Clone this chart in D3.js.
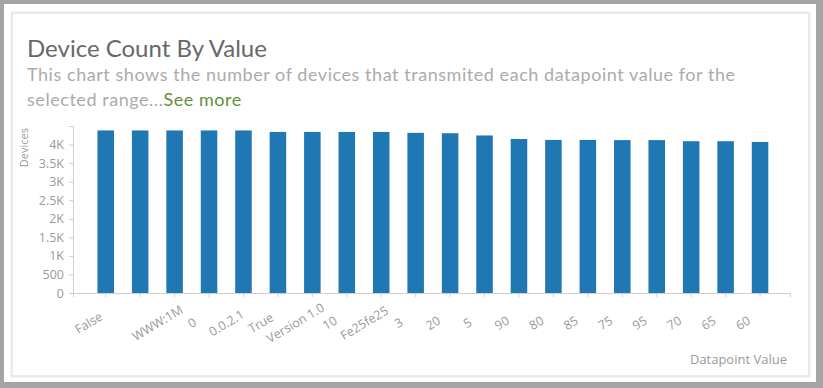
<!DOCTYPE html>
<meta charset="utf-8">
<style>
body { margin: 0; background: #fff; }
.frame {
  position: absolute; left: 0; top: 0; width: 823px; height: 388px;
  box-sizing: border-box; border: solid #a4a4a4; border-width: 4px 7px 6px 4px;
}
.card {
  position: absolute; left: 11px; top: 12px; width: 799px; height: 365px;
  box-sizing: border-box; border: 2px solid #e9e9e9; box-shadow: 0 0 2px #e0e0e0;
}
svg { position: absolute; left: 0; top: 0; }
.title { font: 400 24px Lato, sans-serif; fill: #686868; }
.sub { font: 400 18px Lato, sans-serif; fill: #ababab; letter-spacing: 0.55px; }
.more { fill: #5f8f3a; }
.axis text { font: 12.5px "Open Sans", sans-serif; fill: #9a9a9a; }
.axis path, .axis line { stroke: #cfcfcf; }
.label { font: 11px "Open Sans", sans-serif; fill: #9a9a9a; }
</style>
<div class="frame"></div>
<div class="card"></div>
<svg width="823" height="388"></svg>
<script src="https://d3js.org/d3.v7.min.js"></script>
<script>

// datapoint values and device counts
var values = ["False", "", "WWW:1M", "0", "0.0.2.1", "True", "Version 1.0", "10", "Fe25fe25", "3",
              "20", "5", "90", "80", "85", "75", "95", "70", "65", "60"];
var counts = [4380, 4380, 4380, 4380, 4380, 4340, 4340, 4340, 4340, 4315,
              4305, 4245, 4150, 4125, 4125, 4120, 4120, 4090, 4090, 4070];
var yTicks = [0, 500, 1000, 1500, 2000, 2500, 3000, 3500, 4000];

var svg = d3.select("svg");

svg.append("text").attr("class", "title")
    .attr("x", 27).attr("y", 57)
    .text("Device Count By Value");

svg.append("text").attr("class", "sub")
    .attr("x", 27).attr("y", 81)
    .text("This chart shows the number of devices that transmited each datapoint value for the");

var line2 = svg.append("text").attr("class", "sub")
    .attr("x", 27).attr("y", 106);
line2.append("tspan").text("selected range...");
line2.append("tspan").attr("class", "more").text("See more");

var x = d3.scaleBand()
    .domain(values)
    .range([73, 790])
    .paddingInner(0.52)
    .paddingOuter(0.67)
    .align(0.53);

var y = d3.scaleLinear()
    .domain([0, 4500])
    .range([293, 126]);

svg.append("g")
    .selectAll("rect")
    .data(values)
    .enter().append("rect")
      .attr("x", function(d) { return x(d); })
      .attr("y", function(d, i) { return y(counts[i]); })
      .attr("width", x.bandwidth())
      .attr("height", function(d, i) { return y(0) - y(counts[i]); })
      .attr("fill", "#1f77b4");

svg.append("g")
    .attr("class", "axis")
    .attr("transform", "translate(73,0)")
    .call(d3.axisLeft(y)
      .tickValues(yTicks)
      .tickSize(4)
      .tickSizeOuter(4)
      .tickPadding(5)
      .tickFormat(function(d) { return d >= 1000 ? (d / 1000) + "K" : d; }));

var xAxis = svg.append("g")
    .attr("class", "axis")
    .attr("transform", "translate(0,293)")
    .call(d3.axisBottom(x).tickSize(4).tickSizeOuter(4));

xAxis.selectAll(".tick text")
    .attr("x", 0).attr("y", 0).attr("dy", "0.35em")
    .attr("text-anchor", "middle")
    .attr("transform", "translate(-17,30) rotate(-31)");

svg.append("text").attr("class", "label")
    .attr("transform", "translate(24,128) rotate(-90)")
    .attr("dy", "0.35em")
    .attr("text-anchor", "end")
    .text("Devices");

svg.append("text").attr("class", "label")
    .attr("x", 787).attr("y", 364)
    .attr("text-anchor", "end")
    .style("font-size", "13px")
    .text("Datapoint Value");

</script>
